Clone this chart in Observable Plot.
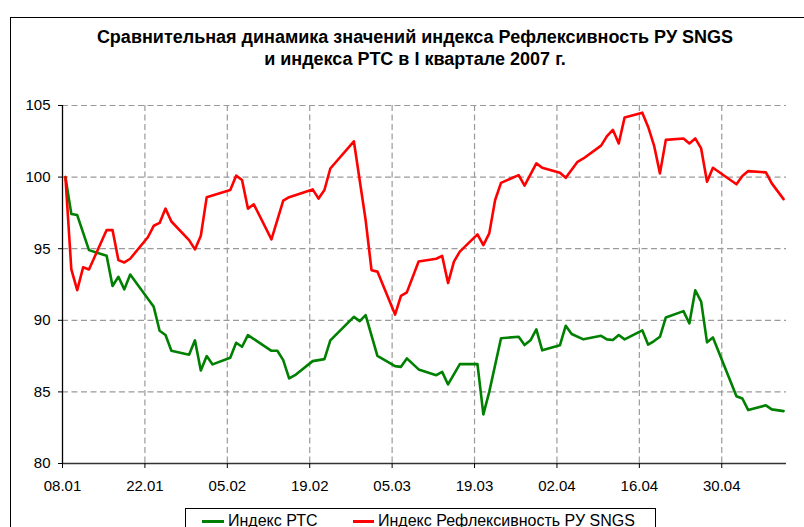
<!DOCTYPE html>
<html>
<head>
<meta charset="utf-8">
<script src="https://cdn.jsdelivr.net/npm/d3@7"></script>
<script src="https://cdn.jsdelivr.net/npm/@observablehq/plot@0.6"></script>
<style>
  html, body { margin: 0; padding: 0; background: #fff; overflow: hidden; }
  #wrap { position: relative; width: 804px; height: 527px; font-family: Arial, "Liberation Sans", sans-serif; }
  #frame { position: absolute; left: 10px; top: 17px; width: 900px; height: 600px; border-left: 1.5px solid #000; border-top: 1.5px solid #000; }
  #title { position: absolute; left: 0; width: 830px; top: 26px; text-align: center; font-weight: bold; font-size: 18px; line-height: 22px; color: #000; }
  #chart { position: absolute; left: 0; top: 0; }
  #legend { position: absolute; left: 185px; top: 508px; width: 469px; height: 40px; border: 1px solid #000; background: #fff; }
  .lg { position: absolute; font-size: 16px; line-height: 16px; top: 4px; white-space: nowrap; color: #000; }
  .sw { position: absolute; height: 2.5px; top: 11px; }
</style>
</head>
<body>
<div id="wrap">
  <div id="frame"></div>
  <div id="chart"></div>
  <div id="title">Сравнительная динамика значений индекса Рефлексивность РУ SNGS<br>и индекса РТС в I квартале 2007 г.</div>
  <div id="legend">
    <div class="sw" style="left:16px;width:22px;background:#008000"></div>
    <div class="lg" style="left:42px">Индекс РТС</div>
    <div class="sw" style="left:167px;width:21px;background:#ff0000"></div>
    <div class="lg" style="left:192px">Индекс Рефлексивность РУ SNGS</div>
  </div>
</div>
<script>
// Tick labels
const xTickLabels = ["08.01","22.01","05.02","19.02","05.03","19.03","02.04","16.04","30.04"];
const yTickValues = [80, 85, 90, 95, 100, 105];

// Индекс Рефлексивность РУ SNGS
const reflDates = ["2007-01-08","2007-01-09","2007-01-10","2007-01-11","2007-01-12","2007-01-15","2007-01-16","2007-01-17","2007-01-18","2007-01-19",
  "2007-01-22","2007-01-23","2007-01-24","2007-01-25","2007-01-26","2007-01-29","2007-01-30","2007-01-31","2007-02-01","2007-02-05",
  "2007-02-06","2007-02-07","2007-02-08","2007-02-09","2007-02-12","2007-02-14","2007-02-15","2007-02-19","2007-02-20","2007-02-21",
  "2007-02-22","2007-02-26","2007-02-28","2007-03-01","2007-03-02","2007-03-05","2007-03-06","2007-03-07","2007-03-09","2007-03-12",
  "2007-03-13","2007-03-14","2007-03-15","2007-03-16","2007-03-19","2007-03-20","2007-03-21","2007-03-22","2007-03-23","2007-03-26",
  "2007-03-27","2007-03-29","2007-03-30","2007-04-02","2007-04-03","2007-04-05","2007-04-06","2007-04-09","2007-04-10","2007-04-11",
  "2007-04-12","2007-04-13","2007-04-16","2007-04-17","2007-04-18","2007-04-19","2007-04-20","2007-04-23","2007-04-24","2007-04-25",
  "2007-04-26","2007-04-27","2007-04-28","2007-05-02","2007-05-03","2007-05-04","2007-05-07","2007-05-08","2007-05-10"];
const reflValues = [100, 93.55, 92.1, 93.7, 93.55, 96.3, 96.3, 94.2, 94.04, 94.3,
  95.8, 96.6, 96.8, 97.8, 96.9, 95.6, 94.95, 95.9, 98.6, 99.1,
  100.1, 99.8, 97.8, 98.1, 95.65, 98.35, 98.6, 99.14, 98.5, 99.1,
  100.6, 102.5, 97.0, 93.5, 93.4, 90.4, 91.7, 91.95, 94.1, 94.3,
  94.5, 92.6, 94.1, 94.8, 96.0, 95.25, 96.07, 98.4, 99.6, 100.14,
  99.4, 100.96, 100.65, 100.3, 99.95, 101.07, 101.3, 102.2, 102.86, 103.3,
  102.35, 104.17, 104.5, 103.5, 102.2, 100.26, 102.6, 102.7, 102.35, 102.7,
  102.0, 99.67, 100.65, 99.5, 100.07, 100.42, 100.33, 99.56, 98.46];

// Индекс РТС
const rtsDates = ["2007-01-08","2007-01-09","2007-01-10","2007-01-12","2007-01-15","2007-01-16","2007-01-17","2007-01-18","2007-01-19","2007-01-23",
  "2007-01-24","2007-01-25","2007-01-26","2007-01-29","2007-01-30","2007-01-31","2007-02-01","2007-02-02","2007-02-05","2007-02-06",
  "2007-02-07","2007-02-08","2007-02-12","2007-02-13","2007-02-14","2007-02-15","2007-02-16","2007-02-19","2007-02-21","2007-02-22",
  "2007-02-26","2007-02-27","2007-02-28","2007-03-02","2007-03-05","2007-03-06","2007-03-07","2007-03-09","2007-03-12","2007-03-13",
  "2007-03-14","2007-03-16","2007-03-19","2007-03-20","2007-03-21","2007-03-23","2007-03-26","2007-03-27","2007-03-28","2007-03-29",
  "2007-03-30","2007-04-02","2007-04-03","2007-04-04","2007-04-06","2007-04-09","2007-04-10","2007-04-11","2007-04-12","2007-04-13",
  "2007-04-16","2007-04-17","2007-04-18","2007-04-19","2007-04-20","2007-04-23","2007-04-24","2007-04-25","2007-04-26","2007-04-27",
  "2007-04-28","2007-05-02","2007-05-03","2007-05-04","2007-05-07","2007-05-08","2007-05-10"];
const rtsValues = [100, 97.42, 97.35, 94.9, 94.5, 92.4, 93.04, 92.16, 93.2, 90.94,
  89.27, 88.97, 87.87, 87.6, 88.6, 86.5, 87.5, 86.92, 87.38, 88.43,
  88.15, 88.97, 87.87, 87.87, 87.22, 85.94, 86.17, 87.15, 87.29, 88.6,
  90.24, 89.94, 90.36, 87.52, 86.8, 86.75, 87.34, 86.57, 86.17, 86.4,
  85.52, 86.94, 86.94, 83.43, 85.0, 88.75, 88.85, 88.27, 88.6, 89.36,
  87.9, 88.25, 89.62, 89.04, 88.67, 88.92, 88.67, 88.62, 88.97, 88.67,
  89.3, 88.3, 88.55, 88.85, 90.2, 90.64, 89.78, 92.1, 91.3, 88.46,
  88.8, 84.7, 84.54, 83.73, 84.06, 83.78, 83.66];

// Each trading day is drawn in the middle of its day slot
const dayMid = s => new Date(Date.parse(s + "T12:00:00Z"));
const refl = reflDates.map((d, i) => ({date: dayMid(d), value: reflValues[i]}));
const rts = rtsDates.map((d, i) => ({date: dayMid(d), value: rtsValues[i]}));
const xTicks = xTickLabels.map(s => { const [dd, mm] = s.split("."); return new Date(Date.UTC(2007, +mm - 1, +dd)); });
const xStart = new Date(Date.UTC(2007, 0, 8));
const xEnd = new Date(Date.UTC(2007, 4, 11));

const gridStyle = {stroke: "#9a9a9a", strokeWidth: 1.2, strokeDasharray: "6,3.5", strokeOpacity: 1};

const chart = Plot.plot({
  width: 804,
  height: 527,
  marginLeft: 62,
  marginRight: 18,
  marginTop: 105,
  marginBottom: 64,
  style: {fontFamily: "Arial, 'Liberation Sans', sans-serif", fontSize: "15px", color: "#000", background: "transparent", overflow: "visible"},
  x: {type: "utc", domain: [xStart, xEnd]},
  y: {domain: [80, 105]},
  marks: [
    Plot.ruleY(yTickValues.slice(1), gridStyle),
    Plot.ruleX(xTicks.slice(1), gridStyle),
    Plot.line(rts, {x: "date", y: "value", stroke: "#008000", strokeWidth: 2.6}),
    Plot.line(refl, {x: "date", y: "value", stroke: "#ff0000", strokeWidth: 2.6}),
    Plot.ruleY([80], {stroke: "#333", strokeWidth: 1.3}),
    Plot.ruleX([xStart], {stroke: "#000", strokeWidth: 1.3}),
    Plot.axisY({ticks: yTickValues, tickSize: 4, tickPadding: 8, label: null, fontSize: 15, tickFormat: d => String(d)}),
    Plot.axisX({ticks: xTicks, tickSize: 5, tickPadding: 12, label: null, fontSize: 15, tickFormat: d3.utcFormat("%d.%m")})
  ]
});
document.getElementById("chart").appendChild(chart);
</script>
</body>
</html>
